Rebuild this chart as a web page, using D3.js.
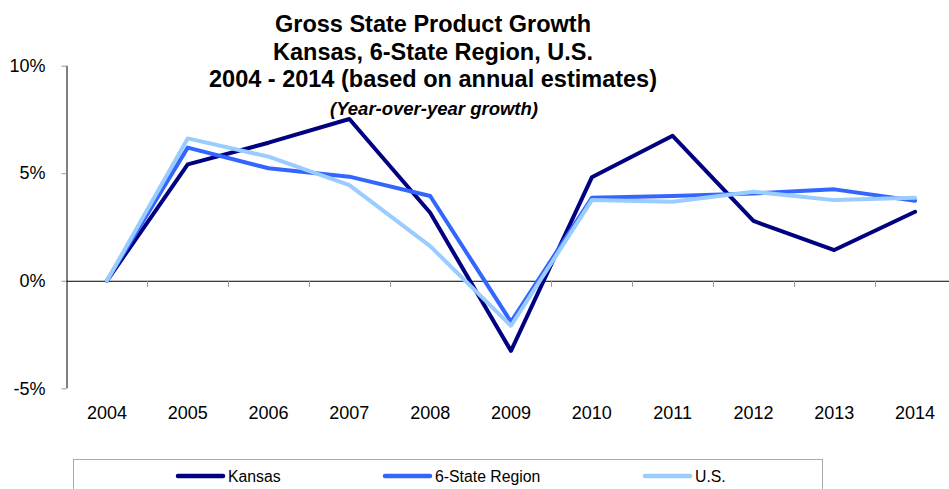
<!DOCTYPE html>
<html>
<head>
<meta charset="utf-8">
<script src="https://cdn.jsdelivr.net/npm/d3@7"></script>
<style>
  html, body { margin: 0; padding: 0; background: #fff; }
  svg { display: block; font-family: "Liberation Sans", Arial, sans-serif; }
</style>
</head>
<body>
<svg id="chart" width="949" height="489"></svg>
<script>
// Year-over-year gross state product growth, percent
const years = ["2004","2005","2006","2007","2008","2009","2010","2011","2012","2013","2014"];
const kansas = [0, 5.41, 6.42, 7.52, 3.16, -3.26, 4.81, 6.74, 2.78, 1.43, 3.21];
const region = [0, 6.19, 5.23, 4.84, 3.94, -1.91, 3.86, 3.94, 4.06, 4.25, 3.72];
const us     = [0, 6.62, 5.77, 4.45, 1.61, -2.09, 3.75, 3.67, 4.14, 3.75, 3.86];
const seriesNames = ["Kansas", "6-State Region", "U.S."];
const seriesColors = ["#000080", "#3366FF", "#99CCFF"];
const yTicks = [-5, 0, 5, 10];
const titleLines = ["Gross State Product Growth", "Kansas, 6-State Region, U.S.", "2004 - 2014 (based on annual estimates)"];
const subtitle = "(Year-over-year growth)";

const series = [kansas, region, us].map((values, i) => ({
  name: seriesNames[i], color: seriesColors[i],
  points: years.map((y, j) => ({ year: y, value: values[j] }))
}));

const svg = d3.select("#chart");
const W = 949, H = 489;

const x = d3.scaleBand().domain(years).range([66.5, 955.5]).paddingInner(0).paddingOuter(0);
const y = d3.scaleLinear().domain([-5, 10]).range([388.3, 65.7]);

// Y axis: line, ticks, percent labels
const yAxis = svg.append("g").attr("transform", `translate(${x.range()[0]},0)`)
  .call(d3.axisLeft(y).tickValues(yTicks).tickSize(5).tickPadding(16).tickFormat(d => d + "%"));
yAxis.select(".domain").attr("stroke", "#000").attr("stroke-width", 1).attr("d", `M0.5,${y(10)}V${y(-5)}`);
yAxis.selectAll(".tick line").attr("stroke", "#999");
yAxis.selectAll(".tick text")
  .attr("font-size", 18).attr("fill", "#000")
  .attr("font-family", "'Liberation Sans', Arial, sans-serif");

// X axis along the zero line, ticks between categories
const xAxis = svg.append("g").attr("transform", `translate(0,${y(0)})`);
xAxis.append("line")
  .attr("x1", x.range()[0]).attr("x2", W)
  .attr("y1", 0.5).attr("y2", 0.5)
  .attr("stroke", "#000").attr("stroke-width", 1);
xAxis.selectAll("line.sep")
  .data(years.slice(1))
  .join("line").attr("class", "sep")
  .attr("x1", d => Math.round(x(d)) + 0.5).attr("x2", d => Math.round(x(d)) + 0.5)
  .attr("y1", 0).attr("y2", 6)
  .attr("stroke", "#999").attr("stroke-width", 1);

// Category labels below the plot
svg.append("g").selectAll("text")
  .data(years)
  .join("text")
  .attr("x", d => x(d) + x.bandwidth() / 2)
  .attr("y", 418.5)
  .attr("text-anchor", "middle")
  .attr("font-size", 18)
  .attr("fill", "#000")
  .text(d => d);

// Series lines
const line = d3.line()
  .x(d => x(d.year) + x.bandwidth() / 2)
  .y(d => y(d.value));

svg.append("defs").append("clipPath").attr("id", "plotClip")
  .append("rect").attr("x", 0).attr("y", 0).attr("width", W).attr("height", H);

svg.append("g").attr("clip-path", "url(#plotClip)")
  .selectAll("path")
  .data(series)
  .join("path")
  .attr("d", d => line(d.points))
  .attr("fill", "none")
  .attr("stroke", d => d.color)
  .attr("stroke-width", 4)
  .attr("stroke-linejoin", "round")
  .attr("stroke-linecap", "round");

// Title block
const cx = 433;
svg.append("g").selectAll("text")
  .data(titleLines)
  .join("text")
  .attr("x", cx)
  .attr("y", (d, i) => [32.3, 60, 87.3][i])
  .attr("text-anchor", "middle")
  .attr("font-size", 23.5)
  .attr("font-weight", "bold")
  .attr("fill", "#000")
  .text(d => d);

svg.append("text")
  .attr("x", cx + 1)
  .attr("y", 115)
  .attr("text-anchor", "middle")
  .attr("font-size", 18.5)
  .attr("font-weight", "bold")
  .attr("font-style", "italic")
  .attr("fill", "#000")
  .text(subtitle);

// Legend box
const legend = svg.append("g");
legend.append("rect")
  .attr("x", 73.5).attr("y", 459.5)
  .attr("width", 749).attr("height", 60)
  .attr("fill", "#fff").attr("stroke", "#aaa").attr("stroke-width", 1);

const legendX = [176, 383, 643];
const item = legend.selectAll("g.item")
  .data(series)
  .join("g").attr("class", "item")
  .attr("transform", (d, i) => `translate(${legendX[i]},476)`);
item.append("line")
  .attr("x1", 2).attr("x2", 47).attr("y1", 0).attr("y2", 0)
  .attr("stroke", d => d.color).attr("stroke-width", 4.5)
  .attr("stroke-linecap", "round");
item.append("text")
  .attr("x", 52).attr("y", 6)
  .attr("font-size", 15.8)
  .attr("fill", "#000")
  .text(d => d.name);
</script>
</body>
</html>
